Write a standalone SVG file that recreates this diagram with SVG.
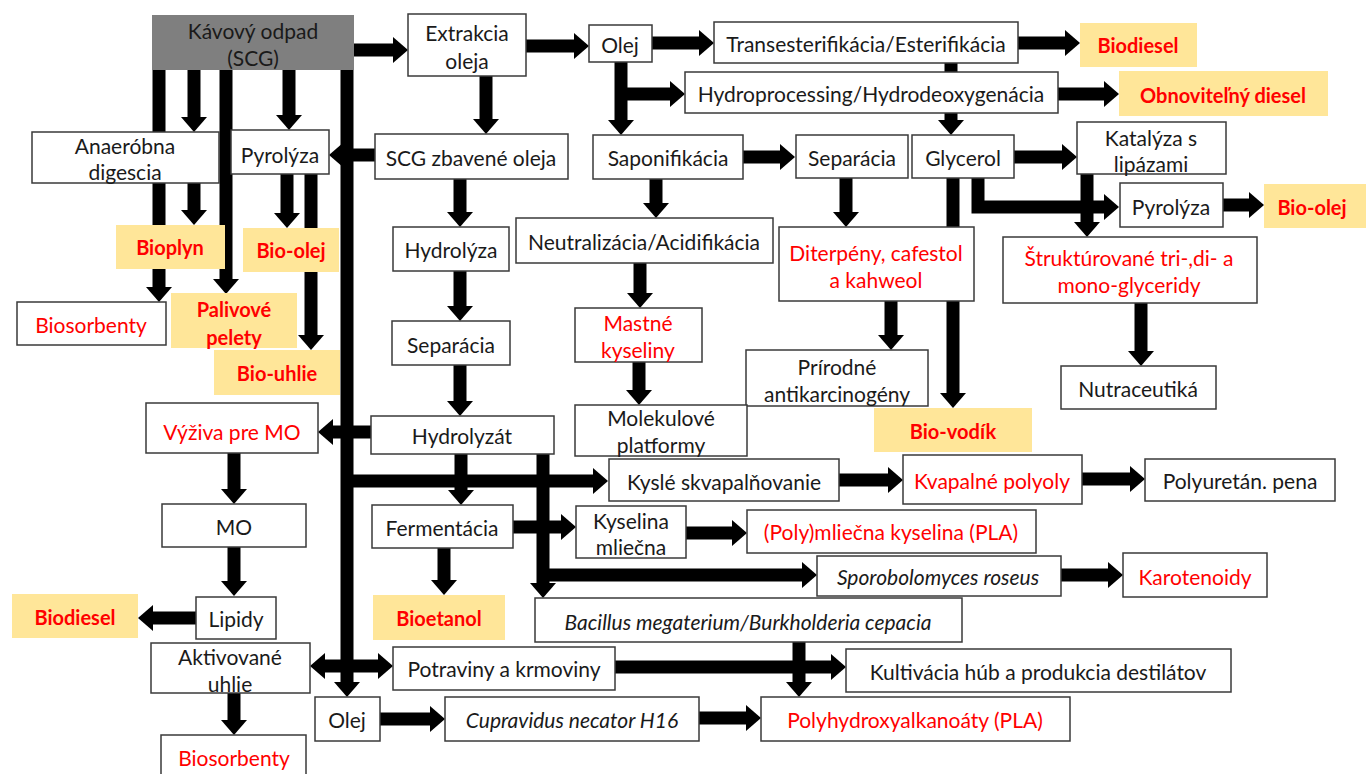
<svg xmlns="http://www.w3.org/2000/svg" width="1366" height="774" viewBox="0 0 1366 774">
<defs>
<marker id="ah" markerUnits="userSpaceOnUse" markerWidth="15" markerHeight="26" refX="1" refY="13" orient="auto"><path d="M0,0 L15,13 L0,26 Z" fill="#000"/></marker>
<style>
.n{fill:#fff;stroke:#3a3a3a;stroke-width:1.5}
.g{fill:#7f7f7f}
.y{fill:#FFE699}
.t{font-family:Lato,"Open Sans","Liberation Sans",sans-serif;font-size:21px;fill:#1a1a1a;text-anchor:middle;dominant-baseline:central}
.r{fill:#ff0000}
.b{font-weight:bold;font-size:20px}
.i{font-style:italic}
.c line,.c polyline{stroke:#000;stroke-width:13;fill:none;marker-end:url(#ah)}
</style>
</defs>
<rect width="1366" height="774" fill="#fff"/>
<g id="connectors" class="c">
<line x1="354" y1="50" x2="394" y2="50"/>
<line x1="526" y1="46" x2="575" y2="46"/>
<line x1="652" y1="43" x2="700" y2="43"/>
<line x1="1018" y1="43" x2="1066" y2="43"/>
<line x1="621" y1="62" x2="621" y2="121"/>
<line x1="621" y1="94" x2="671" y2="94"/>
<line x1="1058" y1="94" x2="1105" y2="94"/>
<line x1="951" y1="63" x2="951" y2="121"/>
<line x1="194" y1="70" x2="194" y2="118"/>
<line x1="194" y1="183" x2="194" y2="211"/>
<line x1="159" y1="70" x2="159" y2="288"/>
<line x1="226" y1="70" x2="226" y2="280"/>
<line x1="289" y1="70" x2="289" y2="116"/>
<line x1="287" y1="174" x2="287" y2="214"/>
<line x1="311" y1="174" x2="311" y2="336"/>
<line x1="375" y1="155" x2="343" y2="155"/>
<line x1="347" y1="70" x2="347" y2="683"/>
<line x1="380" y1="432" x2="332" y2="432"/>
<line x1="234" y1="453" x2="234" y2="490"/>
<line x1="234" y1="547" x2="234" y2="582"/>
<line x1="196" y1="618" x2="152" y2="618"/>
<line x1="234" y1="693" x2="234" y2="721"/>
<line x1="347" y1="666" x2="324" y2="666"/>
<line x1="347" y1="666" x2="379" y2="666"/>
<line x1="347" y1="481" x2="594" y2="481"/>
<line x1="486" y1="76" x2="486" y2="120"/>
<line x1="460" y1="179" x2="460" y2="213"/>
<line x1="460" y1="271" x2="460" y2="307"/>
<line x1="460" y1="365" x2="460" y2="402"/>
<line x1="461" y1="454" x2="461" y2="491"/>
<line x1="543" y1="454" x2="543" y2="584"/>
<line x1="543" y1="575" x2="803" y2="575"/>
<line x1="513" y1="527" x2="562" y2="527"/>
<line x1="444" y1="548" x2="444" y2="581"/>
<line x1="686" y1="533" x2="733" y2="533"/>
<line x1="1061" y1="575" x2="1109" y2="575"/>
<line x1="799" y1="642" x2="799" y2="683"/>
<line x1="615" y1="667" x2="832" y2="667"/>
<line x1="380" y1="719" x2="431" y2="719"/>
<line x1="699" y1="718" x2="747" y2="718"/>
<line x1="839" y1="480" x2="889" y2="480"/>
<line x1="1082" y1="479" x2="1131" y2="479"/>
<line x1="656" y1="179" x2="656" y2="204"/>
<line x1="640" y1="263" x2="640" y2="294"/>
<line x1="639" y1="362" x2="639" y2="391"/>
<line x1="743" y1="157" x2="781" y2="157"/>
<line x1="846" y1="178" x2="846" y2="213"/>
<line x1="953" y1="178" x2="953" y2="394"/>
<line x1="891" y1="301" x2="891" y2="336"/>
<line x1="1014" y1="157" x2="1063" y2="157"/>
<polyline points="978,178 978,207 1105,207"/>
<line x1="1087" y1="174" x2="1087" y2="223"/>
<line x1="1223" y1="205" x2="1250" y2="205"/>
<line x1="1141" y1="303" x2="1141" y2="352"/>
</g>
<g id="scg"><rect class="g" x="152" y="15" width="202" height="55"/><text class="t" x="253" y="30">Kávový odpad</text><text class="t" x="253" y="57">(SCG)</text></g>
<g id="extrakcia"><rect class="n" x="408" y="14" width="118" height="62"/><text class="t" x="467" y="32">Extrakcia</text><text class="t" x="467" y="60">oleja</text></g>
<g id="olej1"><rect class="n" x="589" y="25" width="63" height="37"/><text class="t" x="620" y="44">Olej</text></g>
<g id="trans"><rect class="n" x="714" y="22" width="304" height="41"/><text class="t" x="866" y="43">Transesterifikácia/Esterifikácia</text></g>
<g id="biodiesel1"><rect class="y" x="1080" y="23" width="117" height="44"/><text class="t b r" x="1138" y="45">Biodiesel</text></g>
<g id="hydro"><rect class="n" x="685" y="72" width="373" height="41"/><text class="t" x="871" y="93">Hydroprocessing/Hydrodeoxygenácia</text></g>
<g id="obnov"><rect class="y" x="1119" y="71" width="209" height="45"/><text class="t b r" x="1223" y="95">Obnoviteľný diesel</text></g>
<g id="anaer"><rect class="n" x="32" y="132" width="187" height="51"/><text class="t" x="125" y="145">Anaeróbna</text><text class="t" x="125" y="171">digescia</text></g>
<g id="pyro1"><rect class="n" x="231" y="130" width="98" height="44"/><text class="t" x="280" y="154">Pyrolýza</text></g>
<g id="scgzb"><rect class="n" x="375" y="134" width="193" height="45"/><text class="t" x="471" y="157">SCG zbavené oleja</text></g>
<g id="sapon"><rect class="n" x="593" y="135" width="150" height="44"/><text class="t" x="668" y="157">Saponifikácia</text></g>
<g id="separ2"><rect class="n" x="796" y="135" width="112" height="43"/><text class="t" x="852" y="157">Separácia</text></g>
<g id="glyc"><rect class="n" x="912" y="135" width="102" height="43"/><text class="t" x="963" y="157">Glycerol</text></g>
<g id="kataly"><rect class="n" x="1077" y="122" width="149" height="52"/><text class="t" x="1151" y="137">Katalýza s</text><text class="t" x="1151" y="163">lipázami</text></g>
<g id="pyro2"><rect class="n" x="1120" y="183" width="103" height="44"/><text class="t" x="1171" y="206">Pyrolýza</text></g>
<g id="bioolej2"><rect class="y" x="1264" y="184" width="102" height="44"/><text class="t b r" x="1312" y="207">Bio-olej</text></g>
<g id="bioplyn"><rect class="y" x="116" y="225" width="109" height="44"/><text class="t b r" x="170" y="247">Bioplyn</text></g>
<g id="bioolej1"><rect class="y" x="243" y="228" width="96" height="44"/><text class="t b r" x="291" y="250">Bio-olej</text></g>
<g id="hydrolyza"><rect class="n" x="393" y="227" width="116" height="44"/><text class="t" x="451" y="249">Hydrolýza</text></g>
<g id="neutral"><rect class="n" x="516" y="218" width="257" height="45"/><text class="t" x="644" y="241">Neutralizácia/Acidifikácia</text></g>
<g id="diterp"><rect class="n" x="779" y="227" width="195" height="74"/><text class="t r" x="876" y="252">Diterpény, cafestol</text><text class="t r" x="876" y="279">a kahweol</text></g>
<g id="strukt"><rect class="n" x="1003" y="237" width="254" height="66"/><text class="t r" x="1129" y="257">Štruktúrované tri-,di- a</text><text class="t r" x="1129" y="284">mono-glyceridy</text></g>
<g id="biosorb1"><rect class="n" x="17" y="302" width="149" height="43"/><text class="t r" x="91" y="324">Biosorbenty</text></g>
<g id="palivove"><rect class="y" x="171" y="293" width="126" height="55"/><text class="t b r" x="234" y="309">Palivové</text><text class="t b r" x="234" y="337">pelety</text></g>
<g id="separ1"><rect class="n" x="392" y="321" width="118" height="44"/><text class="t" x="451" y="344">Separácia</text></g>
<g id="mastne"><rect class="n" x="575" y="308" width="127" height="54"/><text class="t r" x="638" y="322">Mastné</text><text class="t r" x="638" y="349">kyseliny</text></g>
<g id="prirodne"><rect class="n" x="746" y="350" width="182" height="56"/><text class="t" x="837" y="366">Prírodné</text><text class="t" x="837" y="393">antikarcinogény</text></g>
<g id="nutra"><rect class="n" x="1061" y="366" width="155" height="43"/><text class="t" x="1138" y="388">Nutraceutiká</text></g>
<g id="biouhlie"><rect class="y" x="214" y="350" width="126" height="45"/><text class="t b r" x="277" y="373">Bio-uhlie</text></g>
<g id="vyziva"><rect class="n" x="146" y="403" width="172" height="50"/><text class="t r" x="232" y="431">Výživa pre MO</text></g>
<g id="molek"><rect class="n" x="575" y="405" width="172" height="51"/><text class="t" x="661" y="417">Molekulové</text><text class="t" x="661" y="444">platformy</text></g>
<g id="hydrolyzat"><rect class="n" x="371" y="416" width="183" height="38"/><text class="t" x="462" y="435">Hydrolyzát</text></g>
<g id="biovodik"><rect class="y" x="874" y="408" width="158" height="44"/><text class="t b r" x="953" y="431">Bio-vodík</text></g>
<g id="kysle"><rect class="n" x="609" y="459" width="230" height="42"/><text class="t" x="724" y="481">Kyslé skvapalňovanie</text></g>
<g id="kvapal"><rect class="n" x="903" y="455" width="179" height="49"/><text class="t r" x="992" y="480">Kvapalné polyoly</text></g>
<g id="polyur"><rect class="n" x="1145" y="459" width="190" height="42"/><text class="t" x="1240" y="480">Polyuretán. pena</text></g>
<g id="mo"><rect class="n" x="162" y="504" width="144" height="43"/><text class="t" x="234" y="526">MO</text></g>
<g id="ferment"><rect class="n" x="372" y="505" width="141" height="43"/><text class="t" x="442" y="527">Fermentácia</text></g>
<g id="kyselina"><rect class="n" x="576" y="506" width="110" height="52"/><text class="t" x="631" y="520">Kyselina</text><text class="t" x="631" y="546">mliečna</text></g>
<g id="polymlie"><rect class="n" x="747" y="510" width="289" height="43"/><text class="t r" x="891" y="531">(Poly)mliečna kyselina (PLA)</text></g>
<g id="sporo"><rect class="n" x="817" y="556" width="244" height="40"/><text class="t i" x="938" y="576">Sporobolomyces roseus</text></g>
<g id="karot"><rect class="n" x="1123" y="553" width="144" height="44"/><text class="t r" x="1195" y="576">Karotenoidy</text></g>
<g id="lipidy"><rect class="n" x="196" y="597" width="80" height="42"/><text class="t" x="236" y="618">Lipidy</text></g>
<g id="biodiesel2"><rect class="y" x="12" y="594" width="126" height="44"/><text class="t b r" x="75" y="617">Biodiesel</text></g>
<g id="bioetanol"><rect class="y" x="373" y="595" width="132" height="45"/><text class="t b r" x="439" y="618">Bioetanol</text></g>
<g id="bacillus"><rect class="n" x="535" y="598" width="427" height="44"/><text class="t i" x="748" y="621">Bacillus megaterium/Burkholderia cepacia</text></g>
<g id="aktiv"><rect class="n" x="151" y="643" width="159" height="50"/><text class="t" x="230" y="656">Aktivované</text><text class="t" x="230" y="683">uhlie</text></g>
<g id="potrav"><rect class="n" x="393" y="647" width="222" height="43"/><text class="t" x="504" y="668">Potraviny a krmoviny</text></g>
<g id="kultiv"><rect class="n" x="846" y="649" width="385" height="43"/><text class="t" x="1038" y="671">Kultivácia húb a produkcia destilátov</text></g>
<g id="olej2"><rect class="n" x="315" y="697" width="65" height="44"/><text class="t" x="347" y="719">Olej</text></g>
<g id="cuprav"><rect class="n" x="445" y="697" width="254" height="44"/><text class="t i" x="572" y="719">Cupravidus necator H16</text></g>
<g id="polyhydr"><rect class="n" x="761" y="697" width="309" height="44"/><text class="t r" x="915" y="719">Polyhydroxyalkanoáty (PLA)</text></g>
<g id="biosorb2"><rect class="n" x="161" y="735" width="145" height="45"/><text class="t r" x="234" y="757">Biosorbenty</text></g>
</svg>
